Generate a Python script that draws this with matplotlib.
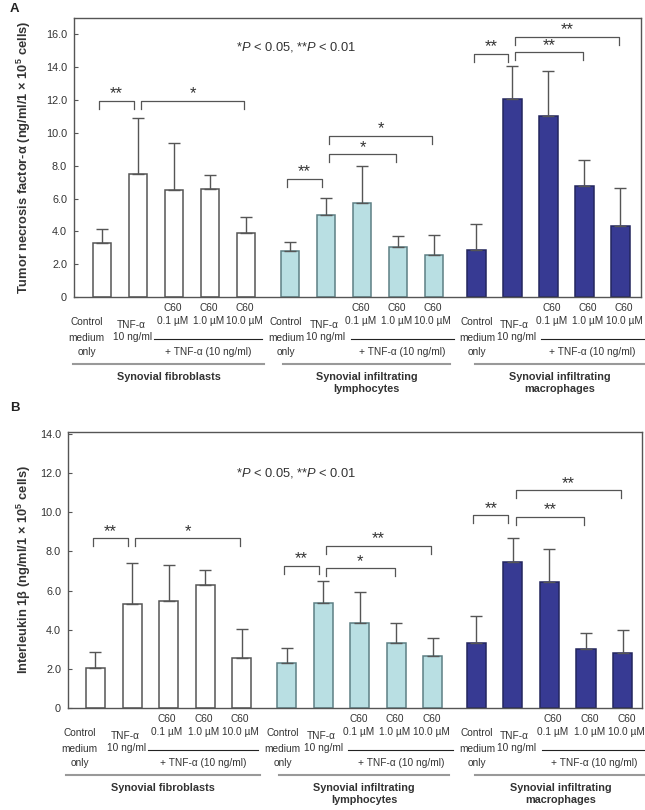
import numpy as np
import matplotlib
matplotlib.use('Agg')
import matplotlib.pyplot as plt
from matplotlib import transforms

plt.rcParams['font.family'] = ['Liberation Sans', 'DejaVu Sans']
plt.rcParams['mathtext.fontset'] = 'custom'
plt.rcParams['mathtext.rm'] = 'Liberation Sans'
plt.rcParams['mathtext.it'] = 'Liberation Sans:italic'
plt.rcParams['mathtext.bf'] = 'Liberation Sans:bold'

# Datos
group_names = ['Synovial fibroblasts', 'Synovial infiltrating\nlymphocytes',
               'Synovial infiltrating\nmacrophages']
c60_labels = ['0.1 µM', '1.0 µM', '10.0 µM']

# Panel A: TNF-alfa
tnf_fib = [3.30, 7.48, 6.50, 6.57, 3.90]
tnf_fib_err = [0.83, 3.43, 2.89, 0.89, 1.00]
tnf_lym = [2.82, 5.00, 5.75, 3.07, 2.54]
tnf_lym_err = [0.51, 1.05, 2.25, 0.65, 1.22]
tnf_mac = [2.88, 12.07, 11.00, 6.77, 4.31]
tnf_mac_err = [1.55, 2.02, 2.80, 1.58, 2.32]

# Panel B: IL-1 beta
il_fib = [2.02, 5.31, 5.49, 6.26, 2.53]
il_fib_err = [0.85, 2.12, 1.84, 0.80, 1.52]
il_lym = [2.28, 5.37, 4.35, 3.33, 2.65]
il_lym_err = [0.80, 1.13, 1.58, 1.02, 0.95]
il_mac = [3.30, 7.45, 6.44, 3.03, 2.79]
il_mac_err = [1.41, 1.26, 1.66, 0.78, 1.21]

# (grupo, barra i, barra j, altura, etiqueta)
tnf_brackets = [(0, 0, 1, 11.95, '**'), (0, 1, 4, 11.95, '*'),
                (1, 0, 1, 7.2, '**'), (1, 1, 3, 8.7, '*'), (1, 1, 4, 9.84, '*'),
                (2, 0, 1, 14.8, '**'), (2, 1, 3, 14.92, '**'), (2, 1, 4, 15.87, '**')]
il_brackets = [(0, 0, 1, 8.66, '**'), (0, 1, 4, 8.66, '*'),
               (1, 0, 1, 7.26, '**'), (1, 1, 3, 7.13, '*'), (1, 1, 4, 8.28, '**'),
               (2, 0, 1, 9.85, '**'), (2, 1, 3, 9.78, '**'), (2, 1, 4, 11.12, '**')]

# Estilo
face = ['white', '#b9dfe3', '#373a93']
edge = ['#555555', '#5d7f84', '#23265e']
txt = '#333333'
line_c = '#555555'
group_start = [0.0, 5.22, 10.4]

# posiciones de etiquetas bajo el eje (unidades de barra)
lab_control = [-0.43, -0.11, 0.02]
lab_tnf = [0.8, 0.94, 1.04]
lab_c60 = [-0.05, -0.04, 0.1]
lab_black = [(1.43, 4.44), (1.69, 4.56), (1.8, 4.64)]
lab_gray = [(-0.8, 4.5), (-0.2, 4.44), (-0.03, 4.64)]

fig = plt.figure(figsize=(6.45, 8.10), dpi=100)
H = 810.0


def draw_panel(rect, xlim, ylim, ppu, means, errs, brackets, ticks, ylabel,
               ylab_x, note_xy):
    ax = fig.add_axes(rect)
    for g in range(3):
        pos = group_start[g] + np.arange(5)
        ax.bar(pos, means[g], width=0.52, color=face[g], edgecolor=edge[g],
               linewidth=1.1, zorder=2)
        ax.errorbar(pos, means[g], yerr=[np.zeros(5), errs[g]], fmt='none',
                    ecolor=line_c, elinewidth=1.0, capsize=4.3, capthick=1.0,
                    zorder=3)
    leg = 8.0 / ppu
    for g, i, j, y, lab in brackets:
        x1 = group_start[g] + i + (0.08 if i == 1 else -0.08)
        x2 = group_start[g] + j - (0.12 if j == 1 else 0.05)
        ax.plot([x1, x1, x2, x2], [y - leg, y, y, y - leg], color=line_c,
                lw=0.9, zorder=4)
        ax.text((x1 + x2) / 2, y + 2.5 / ppu, lab, ha='center',
                va='baseline', fontsize=12, color=txt)
    ax.text(note_xy[0], note_xy[1], r'*$P$ < 0.05, **$P$ < 0.01', ha='center',
            va='center', fontsize=9.3, color=txt)
    ax.set_xlim(*xlim)
    ax.set_ylim(*ylim)
    ax.set_xticks([])
    ax.set_yticks(ticks)
    ax.set_yticklabels(['0'] + ['%.1f' % t for t in ticks[1:]])
    ax.tick_params(axis='y', direction='in', length=3, width=0.8,
                   colors=line_c, labelcolor=txt, labelsize=7.8, pad=5)
    for s in ax.spines.values():
        s.set_color(line_c)
        s.set_linewidth(1.0)
    ax.set_ylabel(ylabel, fontsize=9.3, fontweight='bold', color=txt)
    ax.yaxis.set_label_coords(ylab_x, 0.5)

    # etiquetas de categorias
    y0 = rect[1]
    tr = transforms.blended_transform_factory(ax.transData, fig.transFigure)

    def yy(px):
        return y0 - px / H

    def t(x, px, s, **kw):
        ax.text(x, yy(px), s, transform=tr, ha='center', va='center',
                fontsize=7.3, color=txt, **kw)

    for g in range(3):
        gs = group_start[g]
        t(gs + lab_control[g], 25, 'Control')
        t(gs + lab_control[g], 41, 'medium')
        t(gs + lab_control[g], 55, 'only')
        t(gs + lab_tnf[g], 28, 'TNF-α')
        t(gs + lab_tnf[g] + 0.06, 40, '10 ng/ml')
        for k in range(3):
            t(gs + 2 + k + lab_c60[g], 11, 'C60')
            t(gs + 2 + k + lab_c60[g], 24, c60_labels[k])
        b1, b2 = lab_black[g]
        ax.plot([gs + b1, gs + b2], [yy(42), yy(42)], transform=tr,
                color='#222222', lw=0.8, clip_on=False)
        t(gs + (b1 + b2) / 2, 55, '+ TNF-α (10 ng/ml)')
        g1, g2 = lab_gray[g]
        ax.plot([gs + g1, gs + g2], [yy(67), yy(67)], transform=tr,
                color='#999999', lw=1.5, clip_on=False)
        ax.text(gs + (g1 + g2) / 2, yy(75), group_names[g], transform=tr,
                ha='center', va='top', fontsize=7.8, fontweight='bold',
                color=txt, linespacing=1.2)
    return ax


# Panel A
axA = draw_panel([74 / 645, 1 - 297 / H, 567 / 645, 279 / H],
                 (-0.78, 14.97), (0, 17.0), 16.4,
                 [tnf_fib, tnf_lym, tnf_mac],
                 [tnf_fib_err, tnf_lym_err, tnf_mac_err],
                 tnf_brackets, np.arange(0, 17, 2.0),
                 r'Tumor necrosis factor-α (ng/ml/1 × $\mathbf{10^{5}}$ cells)',
                 -0.072, (5.39, 15.24))

# Panel B
axB = draw_panel([68 / 645, 1 - 708 / H, 574 / 645, 276 / H],
                 (-0.75, 14.93), (0, 14.1), 19.57,
                 [il_fib, il_lym, il_mac],
                 [il_fib_err, il_lym_err, il_mac_err],
                 il_brackets, np.arange(0, 15, 2.0),
                 r'Interleukin 1β (ng/ml/1 × $\mathbf{10^{5}}$ cells)',
                 -0.061, (5.48, 12.0))

fig.text(10 / 645, 1 - 9 / H, 'A', fontsize=9.5, fontweight='bold',
         ha='left', va='center', color='#222222')
fig.text(10 / 645, 1 - 408 / H, 'B', fontsize=9.5, fontweight='bold',
         ha='left', va='center', color='#222222')

plt.savefig('out.png', dpi=100)
